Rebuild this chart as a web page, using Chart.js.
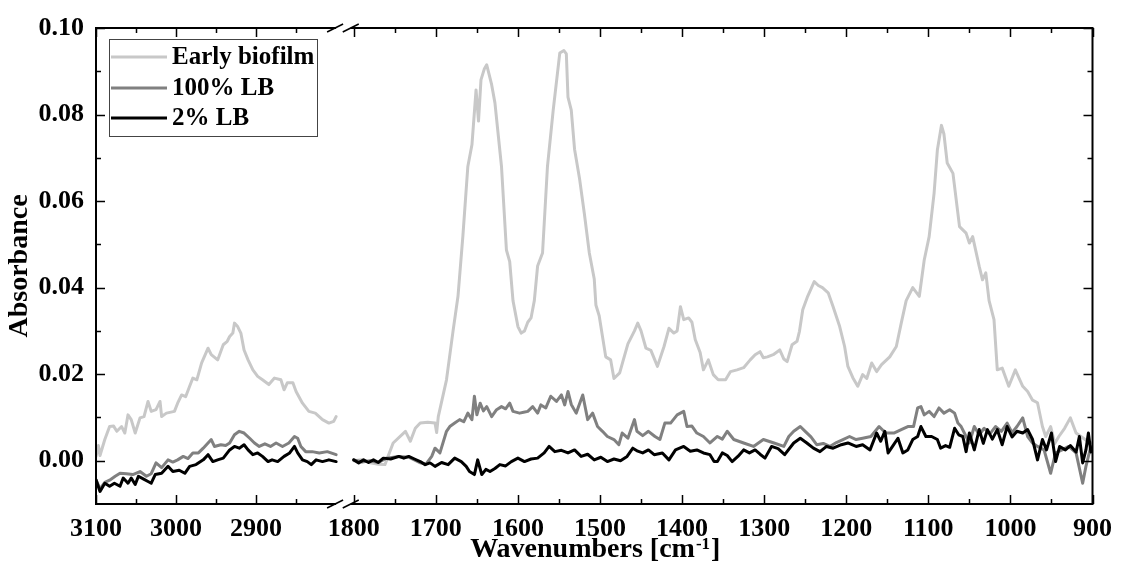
<!DOCTYPE html>
<html>
<head>
<meta charset="utf-8">
<script src="https://cdn.jsdelivr.net/npm/chart.js@4.4.0/dist/chart.umd.min.js"></script>
<style>
  html, body { margin: 0; padding: 0; background: #fff; }
  #wrap { width: 1122px; height: 565px; }
</style>
</head>
<body>
<div id="wrap"><canvas id="chart" width="1122" height="565"></canvas></div>
<script>
// Wavenumbers (cm-1) and absorbance, left (C-H) and right (fingerprint) regions
const earlyWn = [
  3100,3097,3095,3089,3083,3078,3074,3068,3064,3060,
  3056,3051,3045,3040,3035,3031,3025,3020,3018,3012,
  3002,2998,2993,2988,2983,2979,2974,2968,2960,2956,
  2948,2941,2936,2933,2929,2927,2923,2919,2915,2910,
  2904,2898,2892,2884,2877,2869,2865,2861,2854,2850,
  2842,2834,2826,2817,2809,2803,2800,
  1800,1790,1780,1770,1762,1752,1737,1731,1725,1719,
  1710,1701,1699,1697,1687,1679,1673,1667,1661,1656,
  1651,1648,1645,1641,1638,1632,1628,1620,1614,1610,
  1606,1600,1596,1592,1588,1584,1580,1576,1570,1564,
  1557,1549,1544,1541,1539,1535,1531,1525,1519,1513,
  1507,1505,1501,1493,1487,1483,1476,1472,1466,1458,
  1454,1450,1444,1438,1430,1422,1416,1410,1406,1402,
  1398,1392,1388,1384,1378,1374,1368,1362,1356,1347,
  1341,1333,1325,1317,1311,1305,1301,1296,1289,1281,
  1276,1272,1266,1260,1257,1253,1247,1239,1234,1229,
  1222,1216,1208,1202,1198,1192,1186,1180,1175,1169,
  1163,1157,1147,1139,1133,1127,1119,1111,1105,1099,
  1093,1089,1084,1081,1077,1070,1062,1054,1050,1046,
  1038,1034,1030,1026,1020,1016,1010,1002,994,985,
  979,973,967,961,957,951,946,941,934,927,
  920,912,906,900
];
const earlyAbs = [
  0.001,0.0035,0.0012,0.0049,0.0079,0.008,0.0068,0.0079,0.0064,0.0106,
  0.0095,0.0064,0.0099,0.0102,0.0137,0.0114,0.0118,0.0137,0.0102,0.011,
  0.0114,0.0133,0.0152,0.0148,0.0172,0.0191,0.0187,0.0226,0.026,0.0245,
  0.0233,0.0268,0.0276,0.0287,0.0295,0.0318,0.031,0.0295,0.0256,0.0233,
  0.021,0.0195,0.0187,0.0176,0.0191,0.0187,0.0164,0.018,0.018,0.016,
  0.0133,0.0114,0.011,0.0095,0.0087,0.0091,0.0102,
  0.0,0.0002,-0.0005,-0.0008,-0.0009,0.0041,0.0068,0.0045,0.0075,0.0087,
  0.0089,0.0087,0.0065,0.0102,0.0187,0.030,0.038,0.052,0.068,0.073,
  0.0857,0.0785,0.088,0.0905,0.0915,0.0869,0.0827,0.068,0.0487,0.046,
  0.037,0.031,0.0295,0.030,0.032,0.033,0.037,0.045,0.048,0.068,
  0.081,0.0942,0.0948,0.094,0.084,0.081,0.072,0.0653,0.057,0.048,
  0.042,0.036,0.0335,0.024,0.0233,0.019,0.0203,0.023,0.027,0.030,
  0.0318,0.030,0.026,0.0255,0.0218,0.0264,0.0306,0.0295,0.030,0.0356,
  0.0326,0.033,0.032,0.028,0.025,0.021,0.0233,0.0199,0.0187,0.0187,
  0.0206,0.021,0.0215,0.0233,0.0245,0.0252,0.0238,0.024,0.0245,0.0256,
  0.0235,0.0229,0.0268,0.0276,0.0299,0.0349,0.038,0.0414,0.0405,0.040,
  0.0388,0.0356,0.031,0.0264,0.0218,0.0192,0.0172,0.0199,0.019,0.0226,
  0.0206,0.0222,0.024,0.0264,0.0318,0.037,0.040,0.038,0.0464,0.0518,
  0.0618,0.0718,0.0775,0.0755,0.0688,0.0664,0.0541,0.0526,0.0503,0.0518,
  0.0449,0.0418,0.0434,0.037,0.0326,0.021,0.0214,0.0172,0.021,0.0172,
  0.016,0.014,0.0134,0.0079,0.0056,0.0079,0.004,0.0056,0.0075,0.0099,
  0.0064,0.0053,0.0045,0.004
];

const lb100Wn = [
  3100,3095,3089,3083,3076,3070,3062,3054,3045,3037,
  3031,3025,3018,3010,3004,2998,2991,2985,2979,2972,
  2966,2960,2956,2952,2944,2938,2933,2927,2921,2915,
  2908,2902,2896,2889,2882,2875,2867,2859,2852,2848,
  2844,2838,2830,2821,2811,2800,
  1800,1790,1780,1770,1760,1745,1733,1720,1712,1705,
  1701,1695,1687,1683,1677,1671,1666,1661,1656,1653,
  1650,1646,1642,1638,1632,1626,1620,1615,1610,1606,
  1598,1593,1588,1582,1576,1572,1566,1560,1553,1547,
  1543,1539,1535,1529,1521,1515,1509,1503,1497,1491,
  1483,1477,1473,1466,1458,1455,1448,1441,1433,1427,
  1421,1414,1406,1398,1394,1388,1382,1374,1366,1357,
  1351,1345,1337,1325,1313,1301,1288,1276,1270,1264,
  1256,1250,1243,1236,1228,1220,1212,1204,1196,1188,
  1180,1170,1160,1152,1142,1133,1125,1118,1113,1109,
  1105,1099,1093,1087,1081,1074,1068,1064,1060,1054,
  1050,1044,1038,1032,1025,1018,1011,1004,998,992,
  985,979,973,967,959,951,945,937,929,920,
  912,908,902,900
];
const lb100Abs = [
  -0.0044,-0.0065,-0.005,-0.0045,-0.0036,-0.0029,-0.003,-0.0032,-0.0025,-0.0036,
  -0.003,-0.0005,-0.0016,0.0002,-0.0003,0.0002,0.001,0.0005,0.0018,0.0018,
  0.0029,0.0041,0.0049,0.0033,0.0037,0.0035,0.0041,0.006,0.0068,0.0064,
  0.0052,0.0041,0.0033,0.0039,0.0033,0.0041,0.0033,0.0041,0.0056,0.0052,
  0.0033,0.0021,0.0021,0.0018,0.0021,0.0014,
  0.0002,-0.0003,0.0,-0.0004,0.0006,0.001,0.0008,-0.0004,-0.0008,0.001,
  0.0029,0.0018,0.0068,0.0079,0.0087,0.0095,0.009,0.011,0.0095,0.0149,
  0.0106,0.0133,0.0115,0.0125,0.0102,0.0118,0.0125,0.012,0.0133,0.0114,
  0.011,0.0112,0.0114,0.0125,0.011,0.0129,0.0122,0.0149,0.0137,0.0152,
  0.0129,0.016,0.013,0.011,0.0152,0.0095,0.011,0.0079,0.0068,0.0056,
  0.0049,0.0037,0.0064,0.0052,0.0095,0.0068,0.0058,0.0068,0.0056,0.0049,
  0.0087,0.0087,0.0106,0.0114,0.0079,0.008,0.0064,0.0056,0.0041,0.0056,
  0.005,0.0068,0.0049,0.0041,0.0033,0.0049,0.0041,0.0033,0.0056,0.0068,
  0.0079,0.0068,0.0055,0.0037,0.004,0.0033,0.0042,0.0049,0.0056,0.0049,
  0.0052,0.0056,0.0079,0.0064,0.0064,0.0072,0.0079,0.0079,0.0122,0.0125,
  0.0106,0.0114,0.0102,0.0122,0.011,0.0118,0.011,0.0087,0.0079,0.0056,
  0.0041,0.0079,0.006,0.0075,0.0062,0.0079,0.0068,0.0087,0.0065,0.0079,
  0.0099,0.0056,0.0041,0.0033,0.0025,-0.0029,0.0018,0.0025,0.0033,0.0018,
  -0.0052,-0.0013,0.0033,0.003
];

const lb2Wn = [
  3100,3095,3089,3083,3077,3070,3066,3060,3056,3051,
  3047,3041,3035,3031,3026,3018,3010,3004,2996,2989,
  2983,2975,2966,2960,2954,2948,2941,2933,2927,2921,
  2915,2910,2904,2898,2892,2885,2880,2873,2865,2858,
  2852,2848,2842,2836,2831,2825,2817,2809,2800,
  1800,1794,1788,1782,1776,1770,1764,1755,1745,1739,
  1733,1726,1719,1713,1707,1701,1693,1685,1677,1669,
  1663,1659,1653,1649,1644,1639,1634,1628,1622,1615,
  1608,1600,1592,1584,1576,1568,1562,1555,1547,1539,
  1531,1523,1515,1507,1499,1491,1483,1475,1467,1460,
  1454,1448,1441,1434,1424,1416,1408,1398,1390,1382,
  1374,1366,1361,1357,1351,1345,1339,1332,1325,1318,
  1311,1305,1299,1291,1283,1275,1264,1256,1248,1240,
  1232,1224,1216,1206,1198,1188,1180,1171,1163,1158,
  1153,1149,1143,1137,1131,1125,1119,1113,1109,1103,
  1096,1089,1085,1079,1074,1068,1063,1058,1054,1050,
  1044,1038,1033,1028,1022,1016,1010,1004,998,992,
  985,979,973,967,961,956,950,945,940,933,
  927,920,916,912,908,905,902,900
];
const lb2Abs = [
  -0.0044,-0.0071,-0.0052,-0.0059,-0.0052,-0.0059,-0.004,-0.0052,-0.004,-0.0055,
  -0.0036,-0.0042,-0.0048,-0.0052,-0.0032,-0.0029,-0.0013,-0.0025,-0.0022,-0.0029,
  -0.0013,-0.0009,0.0002,0.0014,-0.0002,0.0002,0.0006,0.0025,0.0033,0.0029,
  0.0037,0.0025,0.0014,0.0018,0.001,-0.0002,0.0002,-0.0002,0.001,0.0018,
  0.0033,0.0018,0.0002,-0.0002,-0.0009,0.0002,-0.0002,0.0002,-0.0002,
  0.0002,-0.0005,0.0002,-0.0004,0.0002,-0.0004,0.0006,0.0004,0.001,0.0006,
  0.001,0.0004,-0.0002,-0.0009,-0.0005,-0.0013,-0.0004,-0.0009,0.0006,-0.0002,
  -0.0013,-0.0025,-0.0032,0.0002,-0.0032,-0.002,-0.0025,-0.0018,-0.0009,-0.0012,
  -0.0002,0.0006,-0.0002,0.0004,0.0006,0.0018,0.0033,0.0021,0.0024,0.0018,
  0.0025,0.001,0.0015,0.0002,0.0008,-0.0002,0.0004,0.0,0.001,0.0029,
  0.0022,0.0018,0.0025,0.0014,0.0018,0.0002,0.0025,0.0033,0.0022,0.0025,
  0.0018,0.0014,-0.0002,-0.0002,0.0018,0.0012,-0.0002,0.001,0.0025,0.0018,
  0.0025,0.0015,0.0006,0.0033,0.0028,0.0014,0.0041,0.0052,0.0041,0.0029,
  0.0021,0.0033,0.0029,0.0037,0.0041,0.0033,0.0037,0.0025,0.0064,0.0045,
  0.0068,0.0018,0.0035,0.0052,0.0018,0.0025,0.0049,0.0056,0.0079,0.0056,
  0.0056,0.0049,0.0029,0.0035,0.0031,0.0075,0.006,0.0056,0.0021,0.0064,
  0.0025,0.0072,0.004,0.0072,0.005,0.0072,0.0037,0.0079,0.0055,0.0068,
  0.0064,0.0072,0.0049,0.0002,0.0049,0.0025,0.0064,-0.0002,0.0033,0.0025,
  0.0035,0.002,0.0056,-0.0005,0.0025,0.0064,0.002,0.003
];

// tick labels
const xMajor = [3100, 3000, 2900, 1800, 1700, 1600, 1500, 1400, 1300, 1200, 1100, 1000, 900];
const xMinor = [3050, 2950, 2850, 1750, 1650, 1550, 1450, 1350, 1250, 1150, 1050, 950];
const yMajor = [0, 0.02, 0.04, 0.06, 0.08, 0.10];
const yMinor = [0.01, 0.03, 0.05, 0.07, 0.09];

// broken axis: 3100-2800 on the left, 1800-900 on the right
const LEFT_K = 0.975;
const RIGHT_START = 314;
function toPos(w) {
  return w >= 2000 ? (3100 - w) * LEFT_K : RIGHT_START + (1800 - w);
}
function fromPos(p) {
  return p < 300 ? Math.round(3100 - p / LEFT_K) : Math.round(1800 - (p - RIGHT_START));
}
function points(wn, abs) {
  const out = [];
  for (let i = 0; i < wn.length; i++) {
    if (i > 0 && wn[i - 1] >= 2000 && wn[i] < 2000) out.push({ x: 303, y: null });
    out.push({ x: toPos(wn[i]), y: abs[i] });
  }
  return out;
}

const serif = 'Liberation Serif, Times New Roman, serif';

const framePlugin = {
  id: 'frame',
  afterDatasetsDraw(chart) {
    const { ctx, chartArea: a, scales: { x, y } } = chart;
    ctx.save();
    ctx.strokeStyle = '#000';
    ctx.lineWidth = 2;
    const cutL = x.getPixelForValue(toPos(2800));
    const cutR = x.getPixelForValue(toPos(1800)) - 3;
    ctx.beginPath();
    [a.top, a.bottom].forEach(yy => {
      ctx.moveTo(a.left - 1, yy); ctx.lineTo(cutL, yy);
      ctx.moveTo(cutR, yy); ctx.lineTo(a.right + 1, yy);
    });
    ctx.moveTo(a.left, a.top); ctx.lineTo(a.left, a.bottom);
    ctx.moveTo(a.right, a.top); ctx.lineTo(a.right, a.bottom);
    ctx.stroke();

    // break marks
    ctx.lineWidth = 1.5;
    ctx.beginPath();
    [a.top, a.bottom].forEach(yy => {
      [cutL - 1, cutR].forEach(cx => {
        ctx.moveTo(cx - 8, yy + 4);
        ctx.lineTo(cx + 8, yy - 4);
      });
    });
    ctx.stroke();

    // inward ticks
    ctx.lineWidth = 1.5;
    ctx.beginPath();
    const xt = (list, len) => list.forEach(w => {
      const px = Math.round(x.getPixelForValue(toPos(w))) + 0.5;
      ctx.moveTo(px, a.bottom); ctx.lineTo(px, a.bottom - len);
      ctx.moveTo(px, a.top); ctx.lineTo(px, a.top + len);
    });
    const yt = (list, len) => list.forEach(v => {
      const py = Math.round(y.getPixelForValue(v)) + 0.5;
      ctx.moveTo(a.left, py); ctx.lineTo(a.left + len, py);
      ctx.moveTo(a.right, py); ctx.lineTo(a.right - len, py);
    });
    xt(xMajor, 9); xt(xMinor, 5);
    yt(yMajor, 9); yt(yMinor, 5);
    ctx.stroke();
    ctx.restore();
  },
  afterDraw(chart) {
    const { ctx, chartArea: a } = chart;
    ctx.save();
    ctx.fillStyle = '#000';

    // y title
    ctx.font = 'bold 28px ' + serif;
    ctx.textAlign = 'center';
    ctx.textBaseline = 'middle';
    ctx.translate(20, (a.top + a.bottom) / 2);
    ctx.rotate(-Math.PI / 2);
    ctx.fillText('Absorbance', 0, 0);
    ctx.setTransform(1, 0, 0, 1, 0, 0);

    // x title with superscript
    ctx.textAlign = 'left';
    ctx.textBaseline = 'alphabetic';
    const main = 'Wavenumbers [cm', sup = '-1', end = ']';
    ctx.font = 'bold 28px ' + serif;
    const w1 = ctx.measureText(main).width, w3 = ctx.measureText(end).width;
    ctx.font = 'bold 17px ' + serif;
    const w2 = ctx.measureText(sup).width;
    let tx = (a.left + a.right) / 2 - (w1 + w2 + w3) / 2;
    const base = 557;
    ctx.font = 'bold 28px ' + serif;
    ctx.fillText(main, tx, base);
    tx += w1 + 1;
    ctx.font = 'bold 17px ' + serif;
    ctx.fillText(sup, tx, base - 8);
    tx += w2 + 1;
    ctx.font = 'bold 28px ' + serif;
    ctx.fillText(end, tx, base);

    // legend
    ctx.fillStyle = '#fff';
    ctx.fillRect(109.5, 39.5, 208, 97);
    ctx.strokeStyle = '#444';
    ctx.lineWidth = 1;
    ctx.strokeRect(109.5, 39.5, 208, 97);
    const rows = [57, 88, 118];
    ctx.font = 'bold 25px ' + serif;
    ctx.textBaseline = 'middle';
    chart.data.datasets.forEach((ds, i) => {
      ctx.strokeStyle = ds.borderColor;
      ctx.lineWidth = 3;
      ctx.beginPath();
      ctx.moveTo(111, rows[i]);
      ctx.lineTo(167, rows[i]);
      ctx.stroke();
      ctx.fillStyle = '#000';
      ctx.fillText(ds.label, 172, rows[i] + 1);
    });
    ctx.restore();
  }
};

new Chart(document.getElementById('chart').getContext('2d'), {
  type: 'line',
  data: {
    datasets: [{
      label: 'Early biofilm',
      data: points(earlyWn, earlyAbs),
      borderColor: '#c8c8c8',
      order: 3
    }, {
      label: '100% LB',
      data: points(lb100Wn, lb100Abs),
      borderColor: '#808080',
      order: 2
    }, {
      label: '2% LB',
      data: points(lb2Wn, lb2Abs),
      borderColor: '#000000',
      order: 1
    }]
  },
  options: {
    responsive: false,
    animation: false,
    layout: { padding: { top: 28, right: 25, left: 0, bottom: 0 } },
    elements: {
      line: { borderWidth: 3, tension: 0, borderJoinStyle: 'round', borderCapStyle: 'round' },
      point: { radius: 0 }
    },
    plugins: { legend: { display: false }, tooltip: { enabled: false } },
    scales: {
      x: {
        type: 'linear',
        min: 0,
        max: toPos(900),
        grid: { display: false, drawTicks: false },
        border: { display: false },
        afterBuildTicks(scale) { scale.ticks = xMajor.map(w => ({ value: toPos(w) })); },
        afterFit(scale) { scale.height = 61; },
        ticks: {
          autoSkip: false,
          maxRotation: 0,
          padding: 10,
          color: '#000',
          font: { family: serif, size: 26, weight: 'bold' },
          callback: v => String(fromPos(v))
        }
      },
      y: {
        min: -0.01,
        max: 0.10,
        grid: { display: false, drawTicks: false },
        border: { display: false },
        afterBuildTicks(scale) { scale.ticks = yMajor.map(v => ({ value: v })); },
        afterFit(scale) { scale.width = 96; },
        ticks: {
          padding: 12,
          color: '#000',
          font: { family: serif, size: 26, weight: 'bold' },
          callback: v => v.toFixed(2)
        }
      }
    }
  },
  plugins: [framePlugin]
});
</script>
</body>
</html>
